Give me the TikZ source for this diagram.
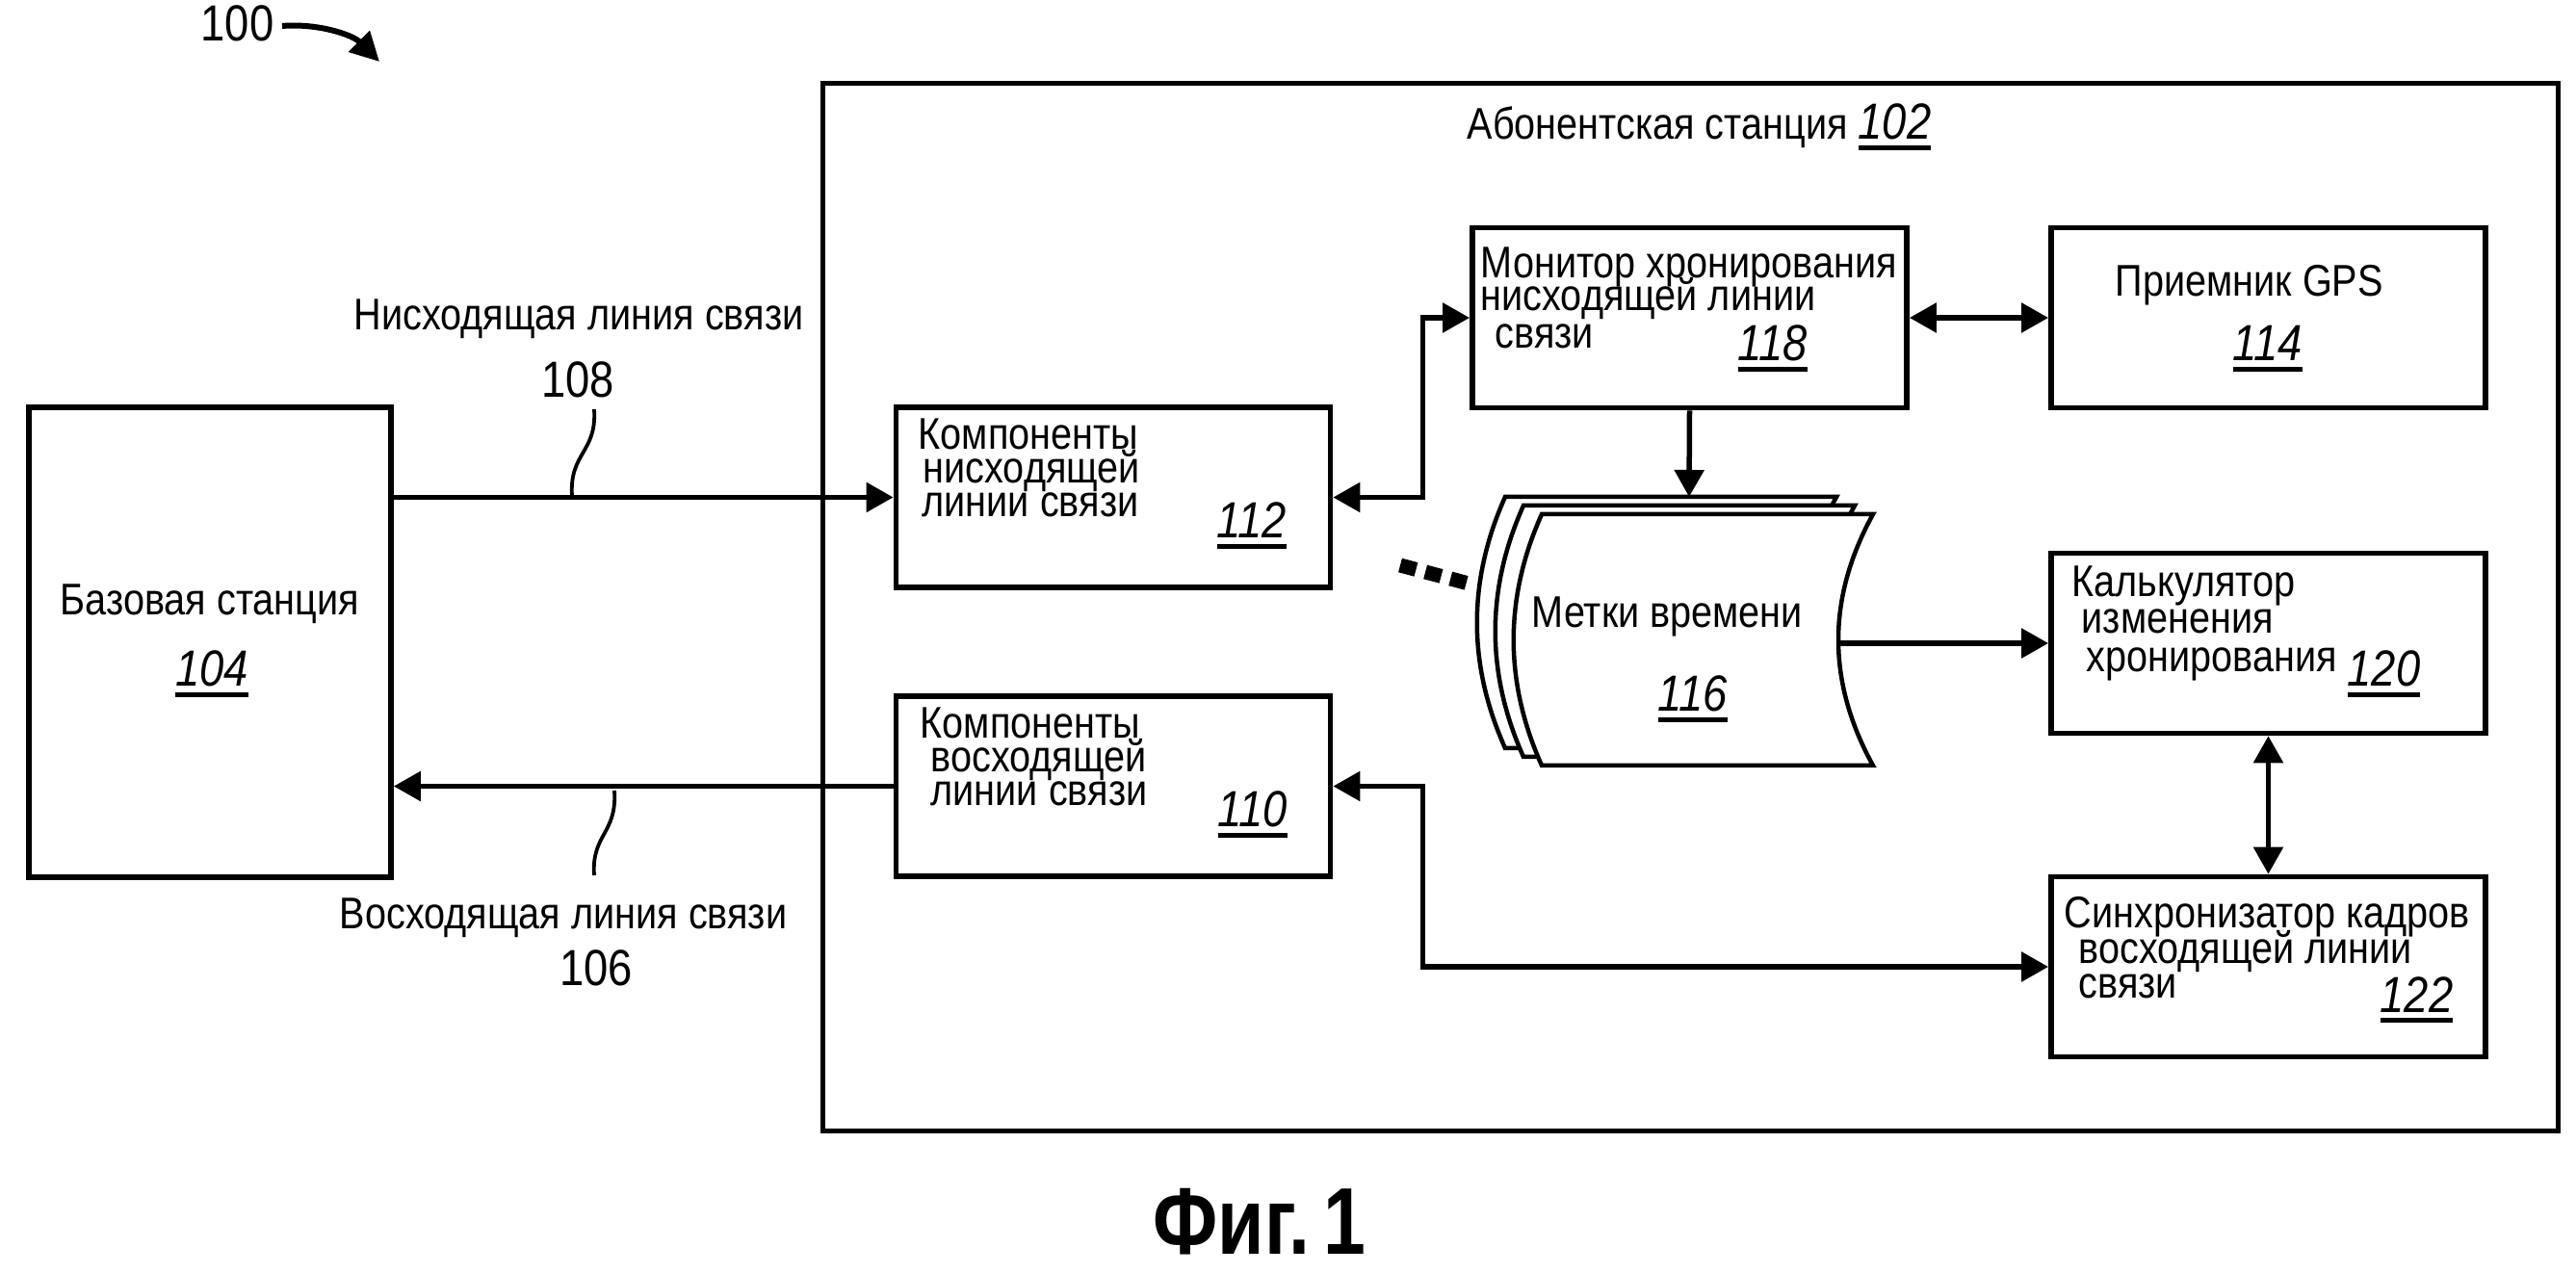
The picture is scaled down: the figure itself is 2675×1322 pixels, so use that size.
\documentclass[tikz,border=0pt]{standalone}
\usepackage{fontspec}
\setmainfont{Liberation Sans}[FakeStretch=0.86]
\newfontfamily\figfont{Liberation Sans}[FakeStretch=0.8]
\usetikzlibrary{arrows.meta,calc}
\newsavebox\rnbox
\newcommand{\rnum}[1]{\sbox\rnbox{\itshape #1}\rlap{\rule[-3pt]{\wd\rnbox}{1.4pt}}\usebox\rnbox}
\tikzset{
  box/.style={draw, line width=0.055cm, minimum width=4.51cm, minimum height=1.87cm, inner sep=0pt},
  txt/.style={font=\fontsize{13.1}{15}\selectfont, inner sep=0pt, anchor=base west},
  ctxt/.style={font=\fontsize{13.1}{15}\selectfont, inner sep=0pt, anchor=base},
  num/.style={font=\fontsize{15}{17}\selectfont, inner sep=0pt, anchor=base west},
  cnum/.style={font=\fontsize{15}{17}\selectfont, inner sep=0pt, anchor=base},
  tip/.tip={Triangle[length=0.28cm,width=0.3cm]},
  arr/.style={line width=0.055cm, -tip},
  darr/.style={line width=0.055cm, tip-tip},
  page/.style={draw, line width=0.045cm, fill=white, line join=miter},
  squig/.style={line width=0.038cm},
}
\begin{document}
\begin{tikzpicture}[x=0.01cm,y=-0.01cm]
\fill[white] (0,0) rectangle (2675,1322);
\useasboundingbox (0,0) rectangle (2675,1322);

% figure reference 100
\node[num] (n100) at (208,43) {100};
\coordinate (a100s) at (293,27);
\coordinate (a100e) at (394,64);
\draw[line width=0.06cm, -{Triangle[length=0.3cm,width=0.3cm]}] (a100s) .. controls (330,24) and (366,36) .. (a100e);

% subscriber station frame
\node[draw, line width=0.055cm, minimum width=18.01cm, minimum height=10.87cm, inner sep=0pt] (sub) at (1755.5,630.5) {};
\node[txt] (subt) at (1523,145) {Абонентская станция {\fontsize{15}{17}\selectfont\rnum{102}}};

% base station
\node[draw, line width=0.055cm, minimum width=3.76cm, minimum height=4.88cm, inner sep=0pt] (bs) at (218,667) {};
\node[ctxt] (bst) at (218,639) {Базовая станция};
\node[cnum] (bsn) at (220,713) {\rnum{104}};

% boxes
\node[box] (b112) at (1156,516.5) {};
\node[box] (b110) at (1156,816.5) {};
\node[box] (b118) at (1754.5,330) {};
\node[box] (b114) at (2355.5,330) {};
\node[box] (b120) at (2355.5,668) {};
\node[box] (b122) at (2355.5,1004) {};

% box texts
\node[txt] (t112a) at (953,467) {Компоненты};
\node[txt] (t112b) at (958,502) {нисходящей};
\node[txt] (t112c) at (957,537) {линии связи};
\node[num] (t112n) at (1263,559) {\rnum{112}};

\node[txt] (t110a) at (955,767) {Компоненты};
\node[txt] (t110b) at (966,802) {восходящей};
\node[txt] (t110c) at (966,837) {линии связи};
\node[num] (t110n) at (1264,859) {\rnum{110}};

\node[txt] (t118a) at (1537,289) {Монитор хронирования};
\node[txt] (t118b) at (1537,323) {нисходящей линии};
\node[txt] (t118c) at (1552,362) {связи};
\node[num] (t118n) at (1804,375) {\rnum{118}};

\node[txt] (t114a) at (2196,308) {Приемник GPS};
\node[num] (t114n) at (2318,375) {\rnum{114}};

\node[txt] (t120a) at (2151,620) {Калькулятор};
\node[txt] (t120b) at (2161,658) {изменения};
\node[txt] (t120c) at (2166,698) {хронирования};
\node[num] (t120n) at (2437,713) {\rnum{120}};

\node[txt] (t122a) at (2143,963) {Синхронизатор кадров};
\node[txt] (t122b) at (2158,1000) {восходящей линии};
\node[txt] (t122c) at (2158,1036) {связи};
\node[num] (t122n) at (2471,1051) {\rnum{122}};

% time stamps (stacked pages)
\begin{scope}[shift={(-38,-18)}]
\draw[page] (1601,534) -- (1945,534) .. controls (1897,621) and (1897,708) .. (1945,795) -- (1601,795) .. controls (1562,708) and (1562,621) .. cycle;
\end{scope}
\begin{scope}[shift={(-19,-9)}]
\draw[page] (1601,534) -- (1945,534) .. controls (1897,621) and (1897,708) .. (1945,795) -- (1601,795) .. controls (1562,708) and (1562,621) .. cycle;
\end{scope}
\draw[page] (1601,534) -- (1945,534) .. controls (1897,621) and (1897,708) .. (1945,795) -- (1601,795) .. controls (1562,708) and (1562,621) .. cycle;
\node[minimum width=3.44cm, minimum height=2.61cm, inner sep=0pt] (ts) at (1773,664.5) {};
\coordinate (tsN) at (1754,516);
\coordinate (tsE) at (1911,668);
\node[txt] (tst) at (1590,652) {Метки времени};
\node[num] (tsn) at (1721,739) {\rnum{116}};
\coordinate (dotsA) at (1454,587);
\coordinate (dotsB) at (1525,606);
\draw[line width=0.15cm, dash pattern=on 0.17cm off 0.1cm] (dotsA) -- (dotsB);

% links to base station
\draw[arr] (bs.east |- b112.west) -- (b112.west);
\draw[arr] (b110.west) -- (bs.east |- b110.west);
\coordinate (dlA) at (617,425);
\coordinate (dlB) at (594,515);
\draw[squig] (dlA) .. controls (620,470) and (591,470) .. (dlB);
\coordinate (ulA) at (638,821);
\coordinate (ulB) at (617,909);
\draw[squig] (ulA) .. controls (641,866) and (614,866) .. (ulB);
\node[ctxt] (dlt) at (601,343) {Нисходящая линия связи};
\node[cnum] (dln) at (600,413) {108};
\node[ctxt] (ult) at (585,965) {Восходящая линия связи};
\node[cnum] (uln) at (619,1023) {106};

% internal connectors
\draw[darr] (b112.east) -- ++(93,0) |- (b118.west);
\draw[darr] (b110.east) -- ++(93,0) |- (b122.west);
\draw[darr] (b118.east) -- (b114.west);
\draw[arr] (b118.south) -- (tsN);
\draw[arr] (tsE) -- (tsE -| b120.west);
\draw[darr] (b120.south) -- (b122.north);

% caption
\node[font=\figfont\bfseries\fontsize{28}{31}\selectfont, inner sep=0pt, anchor=base west] (fig) at (1197,1302) {Фиг.\kern 4pt1};
\end{tikzpicture}
\end{document}
